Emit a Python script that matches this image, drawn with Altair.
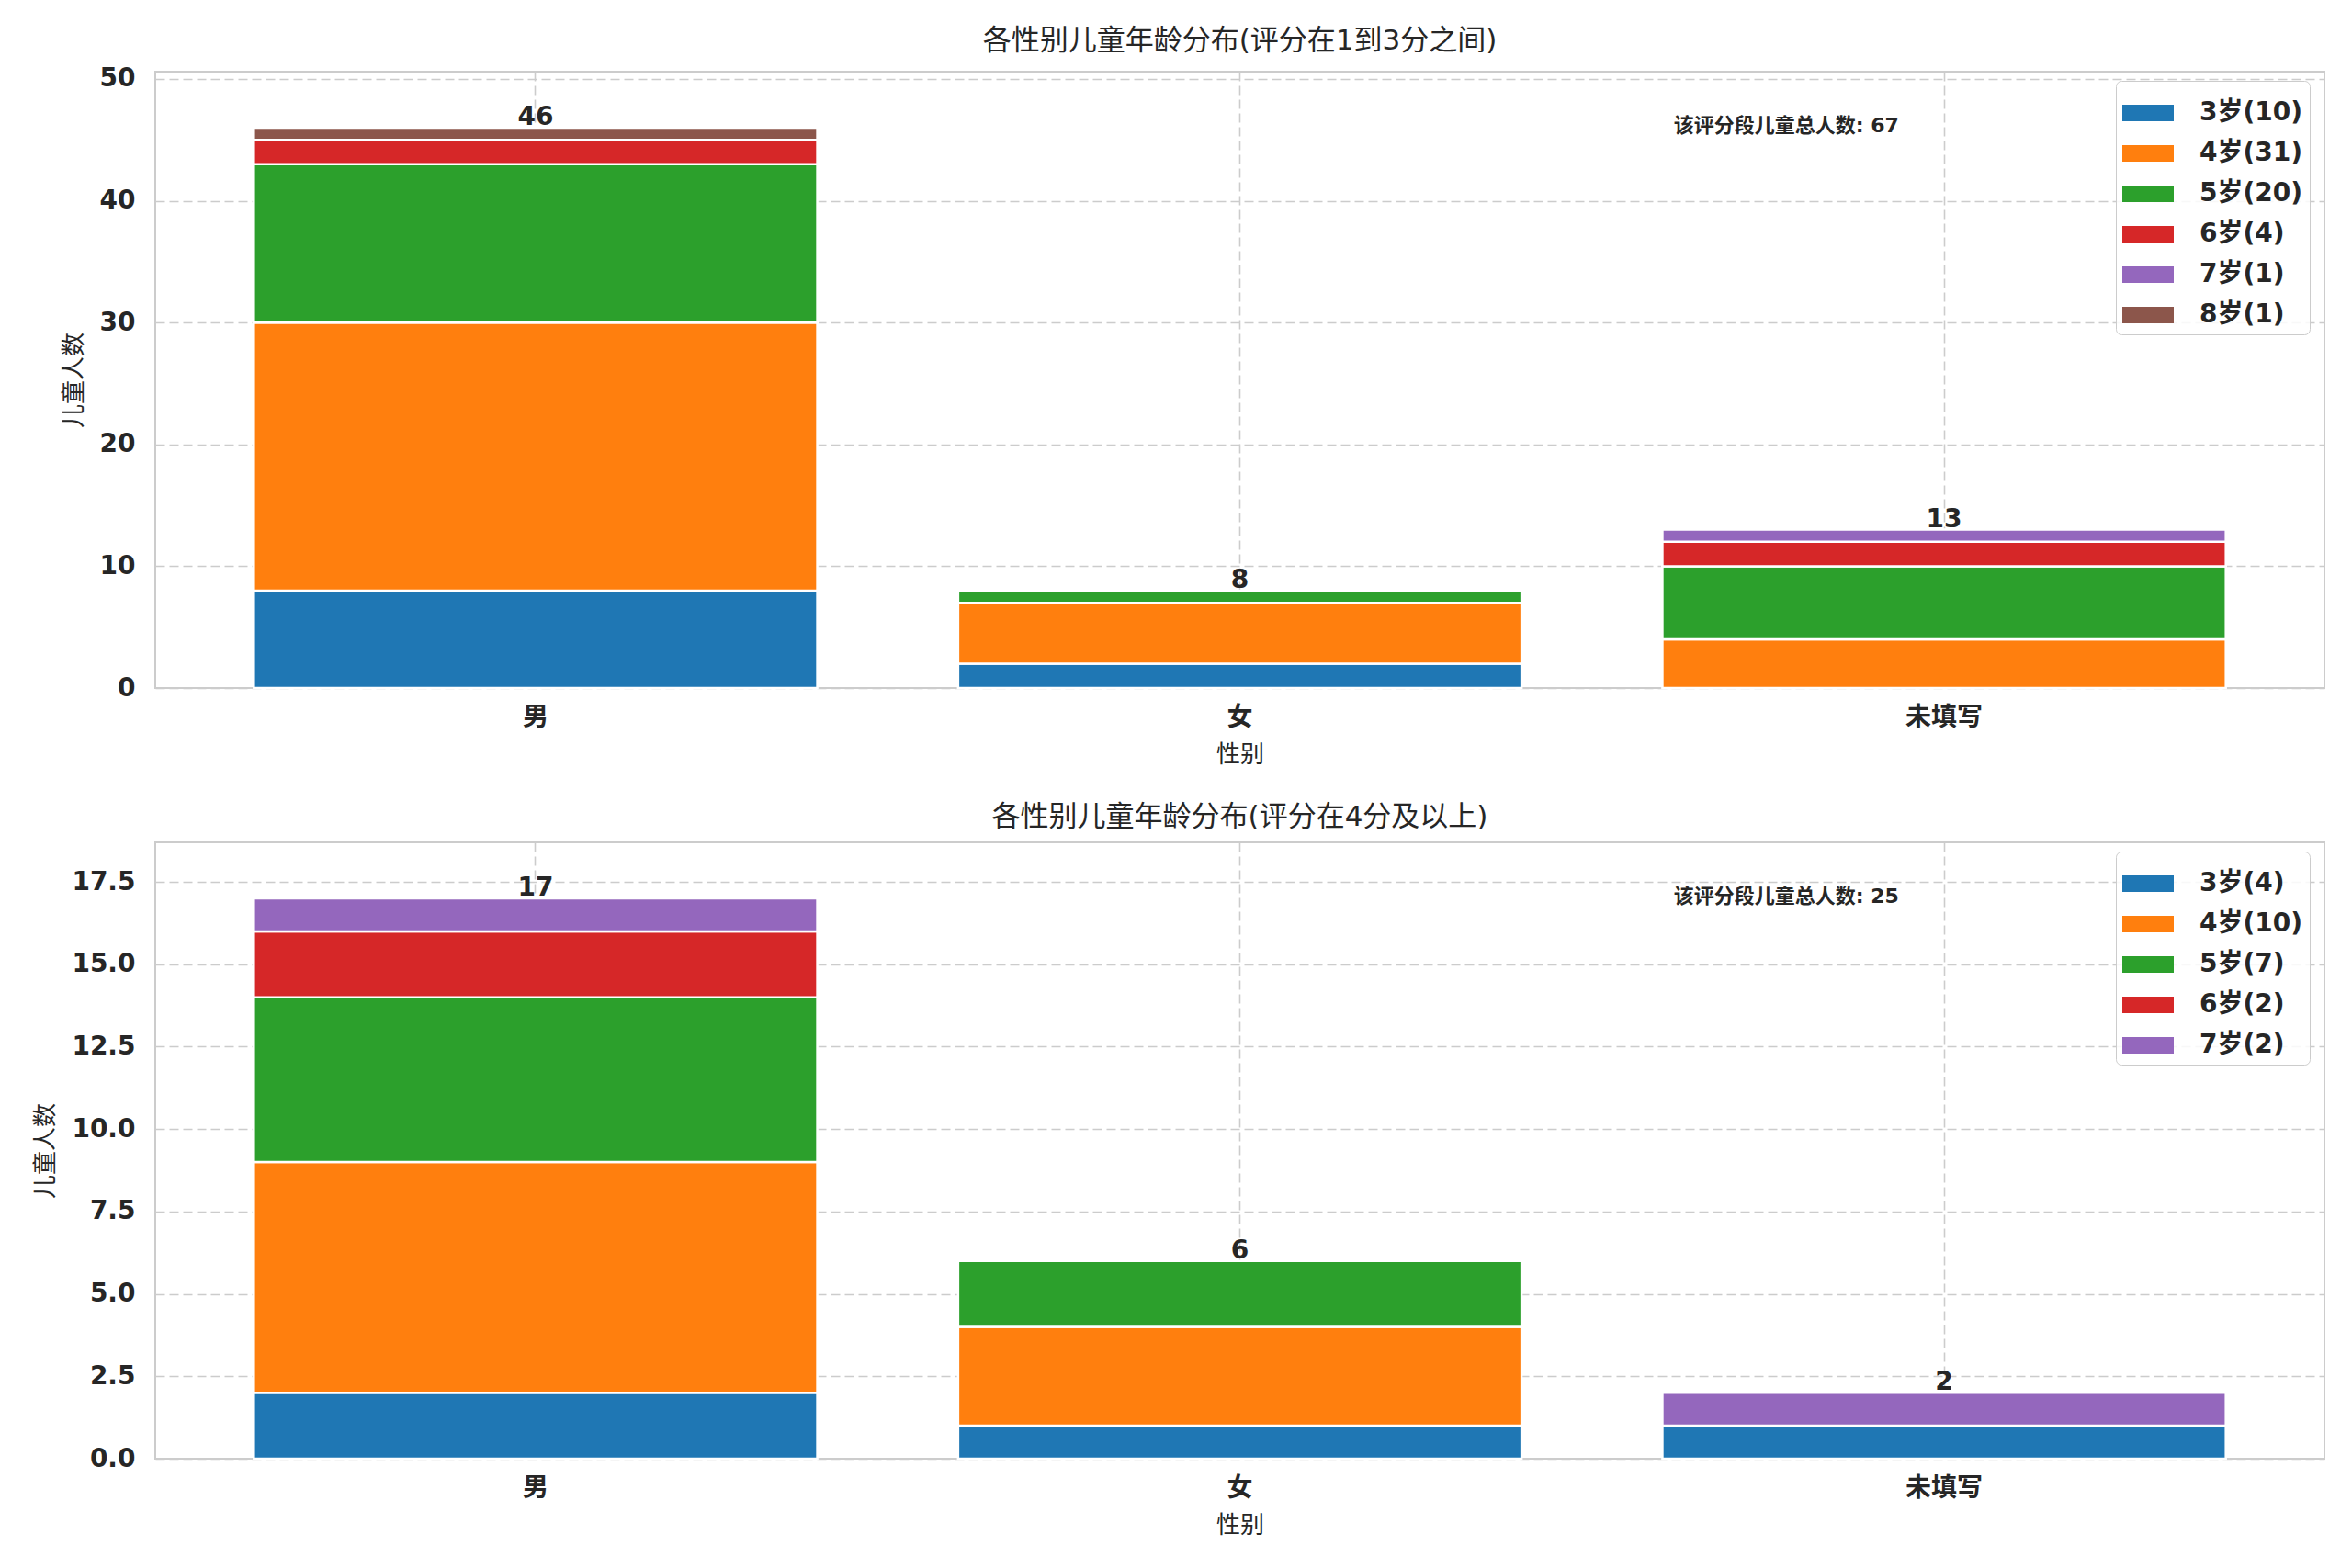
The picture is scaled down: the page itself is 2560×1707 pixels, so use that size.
import altair as alt
import pandas as pd

# ---- data ----
genders = ["男", "女", "未填写"]
colors = ["#1f77b4", "#ff7f0e", "#2ca02c", "#d62728", "#9467bd", "#8c564b"]

top_ages = [3, 4, 5, 6, 7, 8]
top_counts = {
    3: [8, 2, 0],
    4: [22, 5, 4],
    5: [13, 1, 6],
    6: [2, 0, 2],
    7: [0, 0, 1],
    8: [1, 0, 0],
}

bottom_ages = [3, 4, 5, 6, 7]
bottom_counts = {
    3: [2, 1, 1],
    4: [7, 3, 0],
    5: [5, 2, 0],
    6: [2, 0, 0],
    7: [1, 0, 1],
}

top_title = "各性别儿童年龄分布(评分在1到3分之间)"
bottom_title = "各性别儿童年龄分布(评分在4分及以上)"
x_title = "性别"
y_title = "儿童人数"
annot_prefix = "该评分段儿童总人数"
top_ticks = [0, 10, 20, 30, 40, 50]
bottom_ticks = [0, 2.5, 5, 7.5, 10, 12.5, 15, 17.5]

FONT = "DejaVu Sans, Noto Sans CJK SC, sans-serif"
W = 2361
H = 671
TXT = "#262626"


def make_panel(ages, counts, title, ticks, ymax, fmt):
    rows = []
    labels = []
    for a in ages:
        total = sum(counts[a])
        lab = f"{a}岁({total})"
        labels.append(lab)
        for g, c in zip(genders, counts[a]):
            if c > 0:
                rows.append({"gender": g, "age": a, "count": c, "label": lab})
    df = pd.DataFrame(rows)
    grand = int(df["count"].sum())

    xenc = alt.X(
        "gender:N",
        sort=genders,
        scale=alt.Scale(paddingInner=0.2, paddingOuter=0.14),
        axis=alt.Axis(
            title=x_title,
            labelAngle=0,
            grid=True,
            bandPosition=0.5,
            labelPadding=18,
            titlePadding=13,
        ),
    )
    yscale = alt.Scale(domain=[0, ymax], nice=False, zero=True)

    bars = alt.Chart(df).mark_bar(stroke="white", strokeWidth=2.5).encode(
        x=xenc,
        y=alt.Y(
            "count:Q",
            stack="zero",
            scale=yscale,
            axis=alt.Axis(
                title=y_title,
                values=ticks,
                format=fmt,
                labelPadding=22,
                titlePadding=15,
            ),
        ),
        color=alt.Color(
            "label:N",
            sort=labels,
            scale=alt.Scale(domain=labels, range=colors[: len(labels)]),
            legend=alt.Legend(
                title=None,
                orient="none",
                legendX=2134,
                legendY=10,
                padding=7,
                strokeColor="#cccccc",
                cornerRadius=6,
                fillColor="rgba(255,255,255,0.85)",
                labelFont=FONT,
                labelFontSize=28,
                labelFontWeight="bold",
                labelColor=TXT,
                symbolType="M-1,-0.32H1V0.32H-1Z",
                symbolSize=3136,
                symbolStrokeWidth=0,
                symbolOpacity=1,
                labelOffset=28,
                rowPadding=2,
            ),
        ),
        order=alt.Order("age:Q", sort="ascending"),
    )

    totals = alt.Chart(df).mark_text(
        baseline="alphabetic", dy=-3, font=FONT, fontSize=28, fontWeight="bold", color=TXT
    ).encode(
        x=alt.X("gender:N", sort=genders),
        y=alt.Y("sum(count):Q", scale=yscale),
        text=alt.Text("sum(count):Q"),
    )

    annot_df = pd.DataFrame({"t": [f"{annot_prefix}: {grand}"]})
    annot = alt.Chart(annot_df).mark_text(
        align="left", baseline="middle", font=FONT, fontSize=22, fontWeight="bold", color=TXT
    ).encode(
        x=alt.value(0.70 * W),
        y=alt.value(0.088 * H),
        text="t:N",
    )

    return alt.layer(bars, totals, annot).properties(
        width=W,
        height=H,
        title=alt.TitleParams(
            text=title, fontSize=31, fontWeight="normal", font=FONT, color=TXT, offset=11
        ),
    )


top = make_panel(top_ages, top_counts, top_title, top_ticks, 50.6, "d")
bottom = make_panel(bottom_ages, bottom_counts, bottom_title, bottom_ticks, 18.7, ".1f")

chart = (
    alt.vconcat(top, bottom, spacing=168, bounds="flush")
    .resolve_scale(y="independent", color="independent", x="independent")
    .resolve_legend(color="independent")
    .properties(
        padding={"left": 27, "top": 19, "right": 16, "bottom": 10},
        background="white",
    )
    .configure_view(stroke="#cccccc", strokeWidth=2)
    .configure_axis(
        domain=False,
        ticks=False,
        tickSize=0,
        grid=True,
        gridColor="#cccccc",
        gridDash=[10, 5],
        gridWidth=1.6,
        labelFont=FONT,
        labelFontSize=28,
        labelFontWeight="bold",
        labelColor=TXT,
        titleFont=FONT,
        titleFontSize=26,
        titleFontWeight="normal",
        titleColor=TXT,
    )
)

chart.save("out.html", embed_options={"renderer": "svg", "actions": False})
